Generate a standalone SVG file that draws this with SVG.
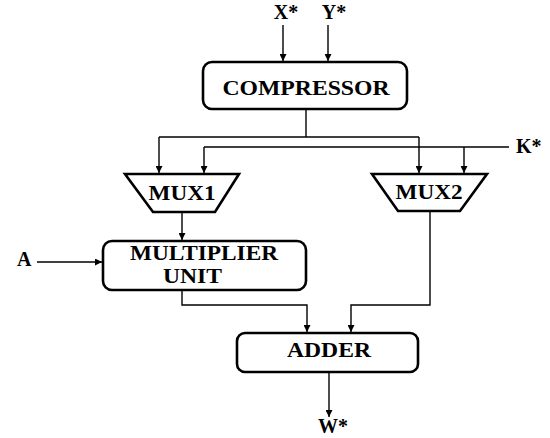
<svg xmlns="http://www.w3.org/2000/svg" width="550" height="438" viewBox="0 0 550 438">
<style>
.box{fill:#fff;stroke:#000;stroke-width:2.6}
.ln{fill:none;stroke:#000;stroke-width:1.4}
.t{font-family:"Liberation Serif","Times New Roman",serif;font-weight:bold;font-size:20px;fill:#000}
.c{text-anchor:middle}
</style>
<defs>
<marker id="ah" viewBox="0 0 10 10" refX="10" refY="5" markerWidth="7" markerHeight="7" markerUnits="userSpaceOnUse" orient="auto">
<path d="M0,0 L10,5 L0,10 Z" fill="#000"/>
</marker>
</defs>
<rect width="550" height="438" fill="#fff"/>
<g id="connectors">
<line class="ln" x1="283" y1="25" x2="283" y2="61" marker-end="url(#ah)"/>
<line class="ln" x1="328" y1="25" x2="328" y2="61" marker-end="url(#ah)"/>
<polyline class="ln" points="306,109 306,137"/>
<polyline class="ln" points="159,137 419,137"/>
<line class="ln" x1="159" y1="137" x2="159" y2="173" marker-end="url(#ah)"/>
<line class="ln" x1="419" y1="137" x2="419" y2="173" marker-end="url(#ah)"/>
<polyline class="ln" points="204,147 509,147"/>
<line class="ln" x1="204" y1="147" x2="204" y2="173" marker-end="url(#ah)"/>
<line class="ln" x1="464" y1="147" x2="464" y2="173" marker-end="url(#ah)"/>
<line class="ln" x1="182" y1="212" x2="182" y2="240" marker-end="url(#ah)"/>
<line class="ln" x1="37" y1="262" x2="102" y2="262" marker-end="url(#ah)"/>
<polyline class="ln" points="182,290 182,305 307,305 307,332" marker-end="url(#ah)"/>
<polyline class="ln" points="430,211 430,305 351,305 351,332" marker-end="url(#ah)"/>
<line class="ln" x1="329" y1="372" x2="329" y2="417" marker-end="url(#ah)"/>
</g>
<g id="compressor">
<rect class="box" x="203" y="62" width="204" height="47" rx="9"/>
<text class="t c" x="306" y="95" textLength="167" lengthAdjust="spacingAndGlyphs">COMPRESSOR</text>
</g>
<g id="mux1">
<polygon class="box" points="125,174 239,174 215,212 153,212"/>
<text class="t c" x="182" y="200" textLength="67" lengthAdjust="spacingAndGlyphs">MUX1</text>
</g>
<g id="mux2">
<polygon class="box" points="372,174 487,174 460,211 398,211"/>
<text class="t c" x="429" y="199" textLength="67" lengthAdjust="spacingAndGlyphs">MUX2</text>
</g>
<g id="multiplier">
<rect class="box" x="103" y="241" width="203" height="49" rx="9"/>
<text class="t c" x="204" y="260" textLength="148" lengthAdjust="spacingAndGlyphs">MULTIPLIER</text>
<text class="t c" x="192.5" y="283" textLength="59" lengthAdjust="spacingAndGlyphs">UNIT</text>
</g>
<g id="adder">
<rect class="box" x="237" y="333" width="181" height="39" rx="8"/>
<text class="t c" x="329" y="357" textLength="84" lengthAdjust="spacingAndGlyphs">ADDER</text>
</g>
<g id="labels">
<text class="t c" x="286" y="19">X*</text>
<text class="t c" x="334" y="19">Y*</text>
<text class="t" x="516" y="153">K*</text>
<text class="t" x="17" y="266">A</text>
<text class="t c" x="333" y="433">W*</text>
</g>
</svg>
